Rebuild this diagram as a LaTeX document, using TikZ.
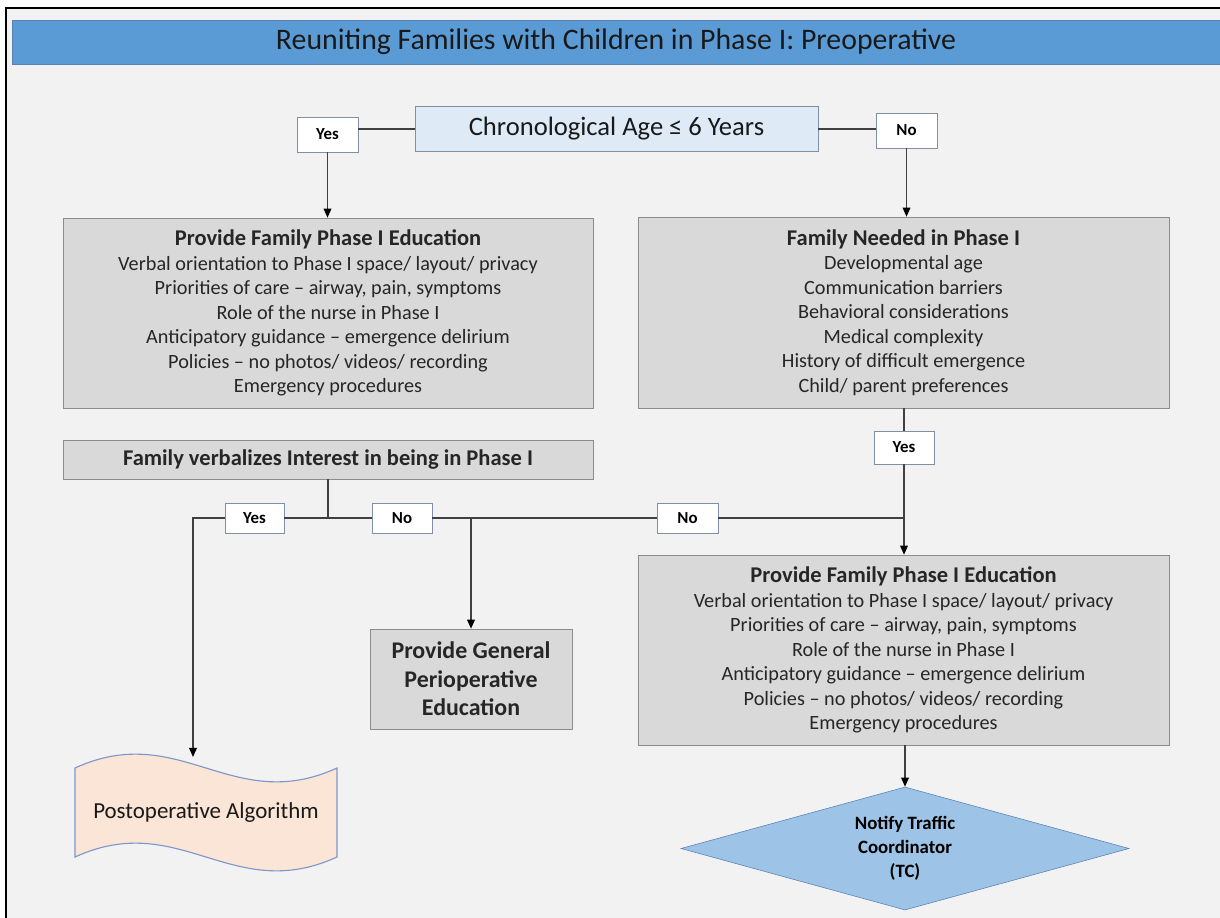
\documentclass[tikz,border=0pt]{standalone}
\usepackage{fontspec}
\setmainfont{Carlito}
\usetikzlibrary{
    positioning,
    shapes.geometric,
    arrows.meta
    }

\definecolor{pagegrey}{HTML}{F2F2F2}
\definecolor{bannerblue}{HTML}{5B9BD5}
\definecolor{askblue}{HTML}{DEEBF7}
\definecolor{boxgrey}{HTML}{D9D9D9}
\definecolor{edgegrey}{HTML}{8C8C8C}
\definecolor{tagedge}{HTML}{7F8FA6}
\definecolor{wiregrey}{HTML}{404040}
\definecolor{tcblue}{HTML}{9DC3E6}
\definecolor{tcedge}{HTML}{5A82B4}
\definecolor{postpeach}{HTML}{FBE5D6}
\definecolor{postedge}{HTML}{7F97C8}

\newcommand{\boxhead}[1]{{\fontsize{16}{17.4}\selectfont\bfseries #1}}

\begin{document}
\begin{tikzpicture}[x=0.025cm, y=-0.025cm]
% px grid, y down
\tikzset{banner/.style =
        {
            rectangle,
            draw=tcedge,
            fill=bannerblue,
            minimum width=30.2cm,
            minimum height=1.1cm,
            text=black!90,
            font=\fontsize{21.2}{24}\selectfont
        }
}

\tikzset{question/.style =
        {
            rectangle,
            draw=tagedge,
            fill=askblue,
            minimum width=10.075cm,
            minimum height=1.125cm,
            text=black!90,
            font=\fontsize{18.9}{22}\selectfont
        }
}

\tikzset{infobox/.style =
        {
            rectangle,
            draw=edgegrey,
            fill=boxgrey,
            align=center,
            minimum width=13.25cm,
            minimum height=4.75cm,
            text=black!85,
            font=\fontsize{14.4}{17.4}\selectfont
        }
}

\tikzset{answer/.style =
        {
            rectangle,
            draw=tagedge,
            fill=white,
            minimum width=1.5cm,
            minimum height=0.8cm,
            font=\fontsize{12}{14}\selectfont\bfseries
        }
}

\tikzset{wire/.style = {
            line width=1pt,
            wiregrey
        }
}

\tikzset{flow/.style = {
            wire,
            -{Triangle[width=5.5pt,length=6.5pt,black]}
        }
}

\tikzset{decision/.style =
        {
            shape=diamond,
            draw=tcedge,
            fill=tcblue,
            aspect=3.64,
            inner sep=0pt,
            minimum width=11.2cm,
            minimum height=3.075cm,
            align=center,
            font=\fontsize{13.4}{17}\selectfont\bfseries
        }
}

\tikzset{docshape/.style = {
            draw=postedge,
            fill=postpeach,
            line width=0.8pt
        }
}

\useasboundingbox (0,0) rectangle (1220,918);
\fill[white] (0,0) rectangle (1220,918);
\fill[pagegrey] (6,8) rectangle (1220,918);
\draw[line width=1.3pt] (6,918) -- (6,8) -- (1220,8);

\node[banner] (title) at (616,42) {Reuniting Families with Children in Phase I: Preoperative};

\node[question] (age) at (616.5,129) {Chronological Age ≤ 6 Years};
\node[answer, minimum width=1.525cm, minimum height=0.875cm] (yesA) at (327.5,134.5) {Yes};
\node[answer, minimum width=1.525cm, minimum height=0.875cm] (noA) at (906.5,130.5) {No};

\node[infobox] (educA) at (328,313) {\boxhead{Provide Family Phase I Education}\\
    Verbal orientation to Phase I space/ layout/ privacy\\
    Priorities of care -- airway, pain, symptoms\\
    Role of the nurse in Phase I\\
    Anticipatory guidance -- emergence delirium\\
    Policies -- no photos/ videos/ recording\\
    Emergency procedures};

\node[infobox, minimum width=13.275cm, minimum height=4.775cm] (needB) at (903.5,312.5) {\boxhead{Family Needed in Phase I}\\
    Developmental age\\
    Communication barriers\\
    Behavioral considerations\\
    Medical complexity\\
    History of difficult emergence\\
    Child/ parent preferences};

\node[answer, minimum height=0.825cm] (yesB) at (904,447.5) {Yes};

\node[infobox, minimum height=0.975cm, font=\fontsize{16}{18}\selectfont\bfseries] (verb) at (328,459.5) {Family verbalizes Interest in being in Phase I};

\node[answer, minimum width=1.475cm, minimum height=0.75cm] (yesC) at (254.5,518) {Yes};
\node[answer, minimum height=0.75cm] (noC) at (402,518) {No};
\node[answer, minimum width=1.525cm, minimum height=0.75cm] (noD) at (687.5,518) {No};

\node[infobox, minimum width=13.275cm] (educB) at (903.5,650) {\boxhead{Provide Family Phase I Education}\\
    Verbal orientation to Phase I space/ layout/ privacy\\
    Priorities of care -- airway, pain, symptoms\\
    Role of the nurse in Phase I\\
    Anticipatory guidance -- emergence delirium\\
    Policies -- no photos/ videos/ recording\\
    Emergency procedures};

\node[infobox, minimum width=5.05cm, minimum height=2.5cm, font=\fontsize{17}{20.2}\selectfont\bfseries] (general) at (471,679) {Provide General\\Perioperative\\Education};

\node[decision] (notify) at (905,848.5) {Notify Traffic\\Coordinator\\(TC)};

% wavy document
\draw[docshape] (75,768) .. controls (180,720) and (232,816) .. (337,768)
    -- (337,857) .. controls (232,905) and (180,809) .. (75,857) -- cycle;
\node[font=\fontsize{16.3}{19}\selectfont, text=black!90] (post) at (206,813) {Postoperative Algorithm};
\coordinate (postin) at (193,757);

% connectors
\draw[wire] (age) -- (age -| yesA.east);
\draw[wire] (age) -- (age -| noA.west);
\draw[flow] (yesA) -- (yesA |- educA.north);
\draw[flow] (noA) -- (noA |- needB.north);
\draw[wire] (yesB |- needB.south) -- (yesB);
\draw[flow] (yesB) -- (yesB |- educB.north);

\coordinate (split) at (verb |- yesC);
\coordinate (branch) at (general |- noC);
\coordinate (merge) at (yesB |- noD);
\coordinate (bend) at (postin |- yesC);

\draw[wire] (verb) -- (split);
\draw[wire] (split) -- (yesC);
\draw[wire] (split) -- (noC);
\draw[wire] (noC) -- (branch) -- (noD);
\draw[wire] (noD) -- (merge);
\draw[flow] (branch) -- (general);
\draw[flow] (yesC) -- (bend) -- (postin);
\draw[flow] (notify |- educB.south) -- (notify.north);

\end{tikzpicture}
\end{document}
